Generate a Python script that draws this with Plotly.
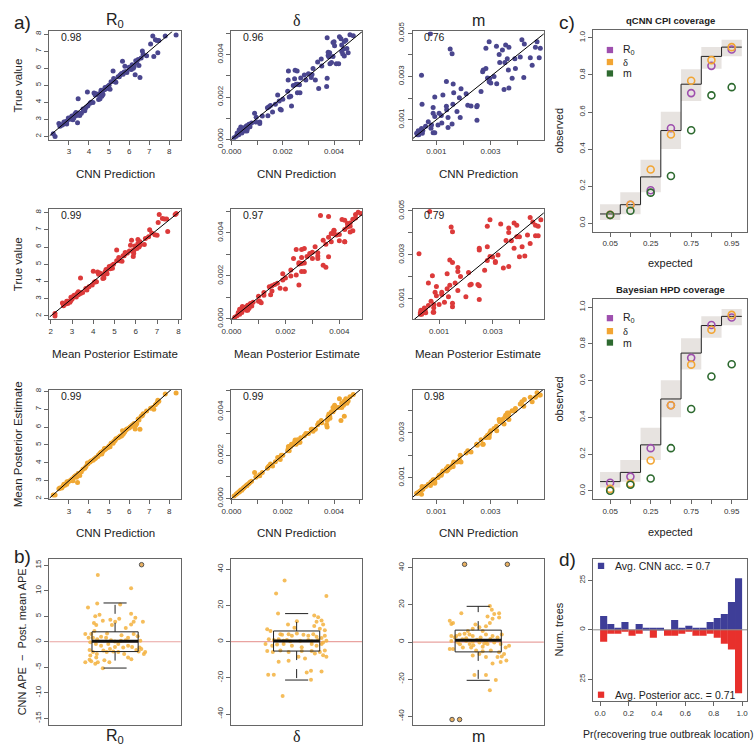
import plotly.graph_objects as go

W, H = 754, 753
FONT = "Liberation Sans, Arial, sans-serif"
SERIF = "Liberation Serif, serif"

# ---------------- data: panel a (true value, CNN prediction, posterior mean) ----------------
r0_cnn = [2.22, 2.31, 2.50, 2.64, 2.80, 2.89, 2.97, 3.13, 3.20, 3.30, 3.38, 3.46, 3.54, 3.43, 3.46,
          3.62, 3.79, 3.95, 3.92, 4.20, 4.25, 4.31, 4.44, 4.48, 4.57, 4.64, 4.69, 4.77, 4.80, 4.93,
          5.05, 5.10, 5.20, 5.23, 5.34, 5.51, 5.62, 5.67, 5.75, 5.79, 5.89, 6.00, 6.11, 6.21, 6.30,
          6.33, 6.38, 6.49, 6.54, 6.66, 6.70, 6.87, 7.07, 7.18, 7.23, 7.31, 7.39, 7.43, 7.48, 7.80,
          8.34, 2.55, 2.70, 2.75, 2.90, 3.05, 3.15, 3.25, 3.35, 3.50, 3.70, 3.85, 4.05, 4.10, 4.35,
          4.55, 4.60, 4.70, 4.85, 5.00, 5.30, 5.45, 5.55, 5.70, 5.85, 6.05, 6.15, 6.25, 6.45, 6.60]
r0_true = [2.15, 2.00, 2.75, 2.66, 2.85, 2.72, 3.08, 3.13, 2.98, 3.32, 3.23, 3.36, 3.23, 2.80, 4.20,
           3.36, 3.50, 3.80, 4.60, 3.98, 4.55, 4.42, 4.45, 4.17, 4.55, 4.36, 4.68, 4.74, 4.87, 4.92,
           4.77, 5.20, 5.83, 5.40, 5.17, 5.49, 5.68, 6.40, 5.77, 6.11, 5.74, 6.06, 5.92, 6.00, 5.62,
           6.43, 6.30, 6.15, 5.45, 7.00, 6.81, 6.72, 7.42, 7.89, 6.68, 7.66, 7.62, 6.90, 7.62, 7.89,
           7.94, 2.60, 2.70, 2.85, 2.90, 3.00, 3.20, 3.10, 3.40, 3.30, 3.60, 3.70, 3.95, 4.00, 4.50,
           4.20, 4.70, 4.45, 4.80, 5.00, 5.20, 5.50, 5.60, 5.65, 5.80, 5.95, 6.20, 6.10, 6.50, 6.60]
r0_post = [2.20, 2.20, 2.55, 2.60, 2.75, 2.80, 2.95, 3.05, 3.00, 3.25, 3.20, 3.35, 3.30, 2.90, 3.40,
           3.50, 3.70, 3.95, 4.00, 4.15, 4.20, 4.25, 4.35, 4.45, 4.55, 4.50, 4.65, 4.80, 4.75, 4.85,
           4.90, 5.10, 5.10, 5.20, 5.35, 5.45, 5.50, 5.80, 5.70, 5.75, 5.90, 5.95, 6.05, 6.15, 5.90,
           6.10, 6.20, 6.40, 5.88, 6.65, 6.75, 6.90, 7.05, 7.10, 7.00, 7.25, 7.35, 7.50, 7.45, 7.85,
           7.90, 2.60, 2.70, 2.80, 2.95, 3.00, 3.10, 3.20, 3.30, 3.40, 3.65, 3.80, 4.05, 4.10, 4.30,
           4.50, 4.60, 4.65, 4.80, 4.95, 5.25, 5.40, 5.50, 5.60, 5.85, 6.00, 6.10, 6.20, 6.45, 6.60]

delta_cnn = [0.00010, 0.00018, 0.00022, 0.00028, 0.00032, 0.00036, 0.00040, 0.00045, 0.00048, 0.00052,
             0.00058, 0.00062, 0.00068, 0.00072, 0.00078, 0.00090, 0.00096, 0.00110, 0.00110, 0.00140,
             0.00142, 0.00146, 0.00152, 0.00171, 0.00180, 0.00186, 0.00190, 0.00194, 0.00219, 0.00221,
             0.00222, 0.00225, 0.00231, 0.00234, 0.00241, 0.00246, 0.00248, 0.00256, 0.00252, 0.00258,
             0.00265, 0.00257, 0.00267, 0.00284, 0.00290, 0.00311, 0.00318, 0.00314, 0.00327, 0.00336,
             0.00340, 0.00352, 0.00371, 0.00373, 0.00373, 0.00377, 0.00377, 0.00380, 0.00383, 0.00384,
             0.00390, 0.00396, 0.00400, 0.00402, 0.00396, 0.00409, 0.00418, 0.00421, 0.00427, 0.00430,
             0.00430, 0.00434, 0.00437, 0.00440, 0.00440, 0.00446, 0.00462, 0.00475, 0.00120, 0.00160,
             0.00200, 0.00270, 0.00300, 0.00350, 0.00450, 0.00455, 0.00060, 0.00030, 0.00095, 0.00059]
delta_true = [0.00008, 0.00015, 0.00030, 0.00022, 0.00035, 0.00058, 0.00030, 0.00048, 0.00055, 0.00040,
              0.00062, 0.00050, 0.00072, 0.00060, 0.00078, 0.00123, 0.00105, 0.00082, 0.00075, 0.00150,
              0.00112, 0.00154, 0.00160, 0.00166, 0.00210, 0.00181, 0.00143, 0.00139, 0.00227, 0.00281,
              0.00323, 0.00200, 0.00204, 0.00158, 0.00255, 0.00286, 0.00327, 0.00323, 0.00261, 0.00260,
              0.00258, 0.00220, 0.00220, 0.00304, 0.00281, 0.00292, 0.00335, 0.00307, 0.00281, 0.00366,
              0.00240, 0.00347, 0.00250, 0.00289, 0.00480, 0.00412, 0.00397, 0.00390, 0.00410, 0.00358,
              0.00363, 0.00458, 0.00462, 0.00443, 0.00392, 0.00358, 0.00358, 0.00485, 0.00476, 0.00446,
              0.00415, 0.00404, 0.00427, 0.00463, 0.00394, 0.00469, 0.00495, 0.00490, 0.00110, 0.00130,
              0.00190, 0.00290, 0.00310, 0.00380, 0.00430, 0.00410, 0.00040, 0.00045, 0.00082, 0.00064]
delta_post = [0.00012, 0.00020, 0.00025, 0.00030, 0.00034, 0.00040, 0.00038, 0.00047, 0.00050, 0.00055,
              0.00060, 0.00065, 0.00070, 0.00075, 0.00080, 0.00120, 0.00100, 0.00105, 0.00110, 0.00140,
              0.00145, 0.00150, 0.00160, 0.00170, 0.00190, 0.00190, 0.00180, 0.00200, 0.00220, 0.00230,
              0.00240, 0.00220, 0.00240, 0.00250, 0.00250, 0.00260, 0.00270, 0.00260, 0.00250, 0.00270,
              0.00260, 0.00270, 0.00260, 0.00290, 0.00300, 0.00320, 0.00310, 0.00320, 0.00320, 0.00340,
              0.00350, 0.00350, 0.00340, 0.00360, 0.00330, 0.00380, 0.00370, 0.00390, 0.00380, 0.00370,
              0.00400, 0.00420, 0.00410, 0.00430, 0.00400, 0.00420, 0.00420, 0.00460, 0.00360, 0.00440,
              0.00420, 0.00440, 0.00430, 0.00450, 0.00380, 0.00460, 0.00470, 0.00480, 0.00120, 0.00150,
              0.00200, 0.00280, 0.00300, 0.00360, 0.00440, 0.00450, 0.00060, 0.00030, 0.00100, 0.00060]

m_cnn = [0.00027, 0.00033, 0.00035, 0.00045, 0.00048, 0.00045, 0.00047, 0.00082, 0.00088, 0.00088,
         0.00094, 0.00088, 0.00094, 0.00094, 0.00106, 0.00118, 0.00124, 0.00137, 0.00138, 0.00137,
         0.00143, 0.00143, 0.00151, 0.00158, 0.00158, 0.00161, 0.00162, 0.00164, 0.00176, 0.00185,
         0.00191, 0.00188, 0.00210, 0.00216, 0.00228, 0.00249, 0.00250, 0.00251, 0.00265, 0.00271,
         0.00273, 0.00283, 0.00283, 0.00295, 0.00289, 0.00295, 0.00297, 0.00301, 0.00313, 0.00322,
         0.00323, 0.00332, 0.00334, 0.00344, 0.00356, 0.00368, 0.00362, 0.00353, 0.00350, 0.00368,
         0.00366, 0.00380, 0.00392, 0.00390, 0.00410, 0.00416, 0.00425, 0.00423, 0.00447, 0.00454,
         0.00466, 0.00472, 0.00484, 0.00480, 0.00030, 0.00040, 0.00050, 0.00060, 0.00070, 0.00110,
         0.00120, 0.00080, 0.00078]
m_true = [0.00037, 0.00049, 0.00031, 0.00059, 0.00037, 0.00305, 0.00172, 0.00075, 0.00157, 0.00130,
          0.00205, 0.00040, 0.00040, 0.00115, 0.00075, 0.00120, 0.00214, 0.00162, 0.00146, 0.00277,
          0.00110, 0.00064, 0.00427, 0.00405, 0.00080, 0.00172, 0.00265, 0.00225, 0.00138, 0.00202,
          0.00243, 0.00110, 0.00220, 0.00167, 0.00163, 0.00160, 0.00098, 0.00166, 0.00230, 0.00322,
          0.00330, 0.00337, 0.00430, 0.00460, 0.00293, 0.00275, 0.00290, 0.00270, 0.00300, 0.00440,
          0.00266, 0.00402, 0.00365, 0.00422, 0.00445, 0.00435, 0.00382, 0.00364, 0.00240, 0.00247,
          0.00330, 0.00292, 0.00337, 0.00382, 0.00390, 0.00470, 0.00450, 0.00295, 0.00387, 0.00352,
          0.00435, 0.00460, 0.00430, 0.00387, 0.00030, 0.00040, 0.00050, 0.00070, 0.00090, 0.00130,
          0.00085, 0.00060, 0.00497]
m_post = [0.00030, 0.00032, 0.00035, 0.00045, 0.00050, 0.00025, 0.00060, 0.00080, 0.00090, 0.00085,
          0.00075, 0.00078, 0.00080, 0.00090, 0.00100, 0.00110, 0.00130, 0.00140, 0.00130, 0.00140,
          0.00135, 0.00150, 0.00145, 0.00150, 0.00150, 0.00160, 0.00150, 0.00170, 0.00170, 0.00180,
          0.00170, 0.00200, 0.00210, 0.00220, 0.00215, 0.00250, 0.00250, 0.00245, 0.00270, 0.00250,
          0.00250, 0.00280, 0.00280, 0.00290, 0.00290, 0.00280, 0.00300, 0.00310, 0.00320, 0.00330,
          0.00310, 0.00360, 0.00350, 0.00360, 0.00380, 0.00390, 0.00390, 0.00370, 0.00340, 0.00360,
          0.00380, 0.00400, 0.00410, 0.00400, 0.00430, 0.00440, 0.00450, 0.00420, 0.00460, 0.00440,
          0.00460, 0.00480, 0.00470, 0.00470, 0.00030, 0.00040, 0.00048, 0.00060, 0.00070, 0.00110,
          0.00120, 0.00080, 0.00065]

r_labels = [["0.98", "0.96", "0.76"], ["0.99", "0.97", "0.79"], ["0.99", "0.99", "0.98"]]
param_titles = ["R<sub>0</sub>", "δ", "m"]

# ---------------- data: panel b (CNN APE - Post. mean APE) ----------------
b_r0_x = [0.858, 0.777, 0.853, 0.837, 0.872, 0.826, 0.845, 0.899, 0.961, 0.974, 1.001, 1.034, 1.042, 1.132,
          1.132, 1.153, 1.132, 1.167, 1.229, 1.088, 1.053, 0.934, 0.830, 0.804, 0.755, 0.782, 0.818, 0.853,
          0.885, 0.926, 0.966, 0.999, 1.048, 1.088, 1.107, 1.153, 1.186, 1.208, 0.796, 0.842, 0.885, 0.944,
          0.958, 0.999, 1.026, 1.067, 1.107, 1.140, 1.175, 1.202, 0.790, 0.818, 0.796, 0.850, 0.904, 0.931,
          0.985, 1.026, 1.075, 1.107, 1.134, 1.194, 1.216, 1.237, 1.248, 0.755, 0.804, 0.845, 0.858, 0.912,
          0.899, 0.953, 0.790, 0.837]
b_r0_y = [13.1, 6.7, 7.5, 5.0, 5.3, 3.7, 3.3, 4.1, 4.3, 3.3, 3.9, 4.5, 7.3, 10.5,
          5.5, 3.9, 3.4, 4.7, 3.9, 2.7, 1.3, 1.6, 2.1, 1.5, 1.5, 0.8, 0.8, 0.5,
          1.0, 0.8, 0.3, 0.06, 0.2, 0.3, 0.8, 1.5, 1.1, 0.2, -0.1, -0.45, -0.8, -0.45,
          -1.4, -1.0, -0.45, -1.1, -0.8, -1.0, -1.6, -1.1, -1.6, -2.0, -2.7, -2.4, -1.7, -2.0,
          -1.9, -2.0, -2.4, -3.1, -3.4, -1.9, -1.4, -2.4, -2.0, -4.0, -3.8, -3.1, -4.0, -3.6,
          -5.2, -4.0, -3.5, -4.3]
b_delta_x = [0.901, 0.831, 1.245, 0.847, 1.002, 1.145, 1.177, 1.164, 1.205, 1.218, 0.929, 0.982, 1.145, 1.191,
             1.232, 0.758, 0.785, 0.866, 0.880, 0.934, 0.961, 1.002, 1.056, 1.096, 1.137, 1.164, 1.205, 1.232,
             0.771, 0.812, 0.852, 0.893, 0.920, 0.947, 1.029, 1.096, 1.124, 1.177, 1.218, 1.245, 0.744, 0.799,
             0.839, 0.893, 0.961, 1.042, 1.124, 1.164, 1.205, 0.758, 0.804, 0.866, 0.934, 1.042, 1.124, 1.191,
             1.232, 1.150, 1.218, 1.245, 0.852, 0.934, 1.069, 1.015, 0.766, 0.812, 1.083, 1.118, 1.205, 1.118,
             0.885]
b_delta_y = [33.8, 26.6, 25.2, 15.5, 11.3, 14.4, 13.5, 11.0, 11.7, 9.5, 9.5, 7.7, 8.6, 7.2,
             6.3, 6.8, 5.9, 4.1, 3.8, 4.1, 3.2, 4.5, 3.8, 3.2, 4.1, 2.7, 2.0, 3.2,
             1.4, 0.9, 1.4, 0.5, 0.9, 0.2, 0.5, 0.9, 0.2, 0.9, -0.4, 0.5, -1.3, -2.2,
             -1.6, -1.3, -2.2, -3.1, -1.3, -2.2, -1.3, -5.2, -5.7, -4.9, -5.7, -5.2, -5.2, -5.7,
             -4.9, -6.6, -7.5, -8.4, -11.1, -10.6, -9.3, -8.4, -18.3, -18.3, -17.1, -16.0, -16.5, -21.0,
             -30.0]
b_m_x = [1.096, 1.112, 1.132, 1.172, 1.077, 1.118, 1.096, 1.172, 0.766, 0.779, 0.793, 0.861, 0.977, 1.010,
         1.064, 1.037, 0.955, 0.915, 0.928, 0.888, 0.847, 0.820, 0.779, 0.807, 0.901, 0.955, 1.064, 1.118,
         1.159, 1.194, 0.779, 0.834, 0.901, 0.955, 1.010, 1.064, 1.077, 1.037, 1.132, 1.185, 1.226, 1.254,
         0.766, 0.793, 0.874, 0.942, 0.983, 1.037, 1.104, 1.172, 1.213, 1.010, 0.955, 1.064, 1.159, 1.194,
         1.185, 1.118, 1.232, 0.969, 1.064, 1.145, 1.096, 0.870, 0.930, 0.990, 1.050, 1.020, 0.960, 1.100,
         0.850]
b_m_y = [19.4, 17.3, 15.1, 15.5, 13.7, 12.5, 10.2, 13.2, 11.5, 9.7, 10.2, 15.5, 9.4, 8.0,
         8.5, 5.9, 7.1, 5.9, 4.1, 4.5, 4.1, 3.2, 3.2, 2.4, 2.0, 3.2, 4.1, 3.2,
         2.4, 4.1, 0.6, -0.3, 0.6, 0.3, -0.3, 0.3, -1.1, -2.5, -0.3, -1.1, -2.9, -2.0,
         -3.8, -3.8, -2.9, -2.9, -4.6, -5.0, -4.6, -5.5, -6.4, -6.4, -7.3, -8.1, -8.1, -7.8,
         -10.8, -11.6, -9.9, -17.8, -17.8, -20.4, -26.0, 1.5, -1.0, 1.2, -0.8, 2.5, -1.8, 1.6,
         -1.2]
# values beyond the plotted limits, drawn at the limit
b_r0_cap_x, b_r0_cap_y = [1.218], [15.1]
b_delta_cap_x, b_delta_cap_y = [], []
b_m_cap_x, b_m_cap_y = [0.888, 1.240, 0.785, 0.847], [41.8, 41.8, -41.7, -41.7]
# box statistics: lower whisker, q1, median, q3, upper whisker
b_stats = [[-5.15, -1.92, 0.1, 1.95, 7.6],
           [-21.2, -5.2, 0.4, 5.9, 15.5],
           [-20.6, -5.3, 1.0, 6.4, 19.2]]
b_labels = ["R<sub>0</sub>", "δ", "m"]

# ---------------- data: panel c (coverage) ----------------
cov_levels = [0.05, 0.1, 0.25, 0.5, 0.75, 0.9, 0.95]
cov_ci_lo = [0.018, 0.049, 0.167, 0.401, 0.660, 0.833, 0.901]
cov_ci_hi = [0.102, 0.167, 0.343, 0.602, 0.831, 0.951, 0.990]
qcnn_r0 = [0.045, 0.100, 0.178, 0.512, 0.702, 0.849, 0.937]
qcnn_delta = [0.045, 0.100, 0.290, 0.479, 0.769, 0.880, 0.950]
qcnn_m = [0.044, 0.067, 0.165, 0.255, 0.502, 0.690, 0.734]
hpd_r0 = [0.044, 0.077, 0.232, 0.466, 0.724, 0.903, 0.944]
hpd_delta = [0.010, 0.039, 0.165, 0.466, 0.687, 0.877, 0.958]
hpd_m = [0.000, 0.033, 0.067, 0.232, 0.445, 0.622, 0.689]
cov_ticktext = ["0.05", "", "0.25", "", "0.75", "", "0.95"]

# ---------------- data: panel d (histogram of accuracy) ----------------
acc_bin_width = 0.05
cnn_counts = [7, 3, 1, 4, 0, 3, 1, 1, 1, 0, 5, 1, 2, 1, 1, 4, 6, 8, 14, 26]
post_counts = [6, 2, 2, 1, 3, 2, 0, 4, 0, 3, 3, 2, 1, 3, 3, 2, 4, 7, 10, 32]

# ---------------- colours ----------------
C_BLUE, C_RED, C_ORANGE = "#4A468E", "#DC3A3A", "#F0A834"
C_PURPLE, C_CORANGE, C_GREEN = "#9E4FAE", "#F2A533", "#2E6A30"
C_HBLUE, C_HRED = "#3E3E98", "#E8302C"
C_JIT = "#F3B13E"

# ---------------- layout helpers ----------------
def fx(px):
    return px / W


def fy(py):
    return 1 - py / H


def names(i):
    s = "" if i == 1 else str(i)
    return "xaxis" + s, "yaxis" + s, "x" + s, "y" + s


layout_axes = {}
annotations = []
shapes = []


def axis_common():
    return dict(showline=True, mirror=True, linecolor="#666", linewidth=1, ticks="outside",
                ticklen=4, tickwidth=1, tickcolor="#666", showgrid=False, zeroline=False,
                tickfont=dict(family=FONT, size=8, color="#333"), fixedrange=True)


def make_axes(i, box, xrange, yrange, xtv, xtt, ytv, ytt):
    xa, ya, xr, yr = names(i)
    (px0, px1), (py0, py1) = box
    xd = axis_common()
    xd.update(domain=[fx(px0), fx(px1)], anchor=yr, range=xrange, tickvals=xtv, ticktext=xtt)
    yd = axis_common()
    yd.update(domain=[fy(py1), fy(py0)], anchor=xr, range=yrange, tickvals=ytv, ticktext=ytt,
              tickangle=-90)
    layout_axes[xa] = xd
    layout_axes[ya] = yd
    return xr, yr


def text(px, py, s, size=11, xanchor="center", yanchor="middle", angle=0, bold=False,
         family=FONT, color="#222"):
    if bold:
        s = "<b>" + s + "</b>"
    annotations.append(dict(x=fx(px), y=fy(py), xref="paper", yref="paper", text=s,
                            showarrow=False, xanchor=xanchor, yanchor=yanchor, textangle=angle,
                            font=dict(family=family, size=size, color=color)))


def square(px, py, color, half=3.2):
    shapes.append(dict(type="rect", xref="paper", yref="paper", x0=fx(px - half), x1=fx(px + half),
                       y0=fy(py + half), y1=fy(py - half), fillcolor=color, line=dict(width=0)))


fig = go.Figure()

# ---------------- panel a ----------------
cols = [(41, 174), (225, 358), (409, 542)]
rows = [(22, 133), (204, 317), (389, 501)]
params = [(r0_cnn, r0_true, r0_post), (delta_cnn, delta_true, delta_post), (m_cnn, m_true, m_post)]
row_colors = [C_BLUE, C_RED, C_ORANGE]
x_ranges = [[[2.03, 8.57], [-0.00002, 0.0051], [0.00012, 0.00497]],
            [[1.94, 8.11], [-0.00002, 0.00485], [0.00001, 0.00491]],
            [[2.03, 8.57], [-0.00002, 0.0051], [0.00012, 0.00497]]]
y_ranges = [[[1.8, 8.15], [-0.00002, 0.0051], [0.00007, 0.00508]],
            [[1.8, 8.2], [-0.00002, 0.0051], [0.00007, 0.00508]],
            [[1.98, 8.09], [-0.00002, 0.00502], [0.00004, 0.00494]]]
tick_sets = [([2, 3, 4, 5, 6, 7, 8], ["2", "3", "4", "5", "6", "7", "8"]),
             ([0, 0.001, 0.002, 0.003, 0.004, 0.005], ["0.000", "", "0.002", "", "0.004", ""]),
             ([0.001, 0.002, 0.003, 0.004, 0.005], ["0.001", "", "0.003", "", "0.005"])]
x_titles = ["CNN Prediction", "Mean Posterior Estimate", "CNN Prediction"]
x_title_y = [168, 352, 536]
y_titles = ["True value", "True value", "Mean Posterior Estimate"]

for r in range(3):
    for c in range(3):
        idx = r * 3 + c + 1
        cnn, true, post = params[c]
        if r == 0:
            xs, ys = cnn, true
        elif r == 1:
            xs, ys = post, true
        else:
            xs, ys = cnn, post
        tv, tt = tick_sets[c]
        xr, yr = make_axes(idx, (cols[c], rows[r]), x_ranges[r][c], y_ranges[r][c], tv, tt, tv, tt)
        fig.add_trace(go.Scatter(x=xs, y=ys, xaxis=xr, yaxis=yr, mode="markers",
                                 marker=dict(color=row_colors[r], size=5, line=dict(width=0)),
                                 showlegend=False, hoverinfo="skip"))
        lo = max(x_ranges[r][c][0], y_ranges[r][c][0])
        hi = min(x_ranges[r][c][1], y_ranges[r][c][1])
        fig.add_trace(go.Scatter(x=[lo, hi], y=[lo, hi], xaxis=xr, yaxis=yr, mode="lines",
                                 line=dict(color="black", width=1), showlegend=False,
                                 hoverinfo="skip"))
        text(cols[c][0] + 10, rows[r][0] + 6, r_labels[r][c], size=10.5, xanchor="left",
             yanchor="middle")
        text((cols[c][0] + cols[c][1]) / 2, x_title_y[r], x_titles[r], size=11.5)
    text(9, (rows[r][0] + rows[r][1]) / 2, y_titles[r], size=11.5, angle=-90)

for c in range(3):
    fam = SERIF if c == 1 else FONT
    text((cols[c][0] + cols[c][1]) / 2, 11, param_titles[c], size=16, family=fam)

text(14, 13, "a)", size=19)

# ---------------- panel b ----------------
b_box_y = (562, 733)
b_yranges = [[-16.4, 16.3], [-46.3, 45.9], [-44.9, 44.9]]
b_ticks = [([-15, -10, -5, 0, 5, 10, 15], ["-15", "-10", "-5", "0", "5", "10", "15"]),
           ([-40, -20, 0, 20, 40], ["-40", "-20", "0", "20", "40"]),
           ([-40, -20, 0, 20, 40], ["-40", "-20", "0", "20", "40"])]
b_points = [(b_r0_x, b_r0_y, b_r0_cap_x, b_r0_cap_y),
            (b_delta_x, b_delta_y, b_delta_cap_x, b_delta_cap_y),
            (b_m_x, b_m_y, b_m_cap_x, b_m_cap_y)]
BOX_HALF, CAP_HALF = 0.19, 0.095
for c in range(3):
    idx = 10 + c
    xr, yr = make_axes(idx, (cols[c], b_box_y), [0.46, 1.54], b_yranges[c], [], [],
                       b_ticks[c][0], b_ticks[c][1])
    layout_axes[names(idx)[0]]["ticks"] = ""
    shapes.append(dict(type="line", xref=xr + " domain", yref=yr, x0=0, x1=1, y0=0, y1=0,
                       line=dict(color="#E9A3A0", width=1.2), layer="below"))
    jx, jy, cx, cy = b_points[c]
    fig.add_trace(go.Scatter(x=jx, y=jy, xaxis=xr, yaxis=yr, mode="markers",
                             marker=dict(color=C_JIT, size=4, opacity=0.85, line=dict(width=0)),
                             showlegend=False, hoverinfo="skip"))
    if cx:
        fig.add_trace(go.Scatter(x=cx, y=cy, xaxis=xr, yaxis=yr, mode="markers", cliponaxis=False,
                                 marker=dict(color="#E8B060", size=4.5,
                                             line=dict(color="#555", width=1)),
                                 showlegend=False, hoverinfo="skip"))
    lw, q1, med, q3, uw = b_stats[c]
    shapes.append(dict(type="rect", xref=xr, yref=yr, x0=1 - BOX_HALF, x1=1 + BOX_HALF, y0=q1, y1=q3,
                       line=dict(color="#222", width=1)))
    shapes.append(dict(type="line", xref=xr, yref=yr, x0=1 - BOX_HALF, x1=1 + BOX_HALF, y0=med,
                       y1=med, line=dict(color="#111", width=3)))
    for a, b in ((q3, uw), (q1, lw)):
        shapes.append(dict(type="line", xref=xr, yref=yr, x0=1, x1=1, y0=a, y1=b,
                           line=dict(color="#222", width=1, dash="dash")))
        shapes.append(dict(type="line", xref=xr, yref=yr, x0=1 - CAP_HALF, x1=1 + CAP_HALF, y0=b,
                           y1=b, line=dict(color="#222", width=1)))
    fam = SERIF if c == 1 else FONT
    text((cols[c][0] + cols[c][1]) / 2, 744, b_labels[c], size=16, family=fam)

text(13, 647, "CNN APE  \u2212  Post. mean APE", size=11, angle=-90)
text(14, 560, "b)", size=19)

# ---------------- panel c ----------------
c_box_x = (592, 748)
c_boxes_y = [(20, 227), (296, 501)]
c_titles = ["qCNN CPI coverage", "Bayesian HPD coverage"]
c_series = [(qcnn_r0, qcnn_delta, qcnn_m), (hpd_r0, hpd_delta, hpd_m)]
c_legend_y = [(41, 53.3, 65), (315.7, 329, 340.7)]
positions = list(range(1, len(cov_levels) + 1))
for k in range(2):
    idx = 13 + k
    xr, yr = make_axes(idx, (c_box_x, c_boxes_y[k]), [0.16, 7.76], [-0.045, 1.045],
                       positions, cov_ticktext, [0, 0.2, 0.4, 0.6, 0.8, 1.0],
                       ["0.0", "0.2", "0.4", "0.6", "0.8", "1.0"])
    fig.add_trace(go.Bar(x=positions, y=[h - l for h, l in zip(cov_ci_hi, cov_ci_lo)],
                         base=cov_ci_lo, width=1, xaxis=xr, yaxis=yr,
                         marker=dict(color="#E7E3E0", line=dict(width=0)), showlegend=False,
                         hoverinfo="skip"))
    step_x = [positions[0] - 0.5] + positions + [positions[-1] + 0.5]
    step_y = [cov_levels[0]] + cov_levels + [cov_levels[-1]]
    fig.add_trace(go.Scatter(x=step_x, y=step_y, xaxis=xr, yaxis=yr, mode="lines",
                             line=dict(color="#222", width=1, shape="hvh"), showlegend=False,
                             hoverinfo="skip"))
    for ser, col in zip(c_series[k], (C_PURPLE, C_CORANGE, C_GREEN)):
        fig.add_trace(go.Scatter(x=positions, y=ser, xaxis=xr, yaxis=yr, mode="markers",
                                 marker=dict(symbol="circle-open", color=col, size=7,
                                             line=dict(width=1.6)),
                                 showlegend=False, hoverinfo="skip"))
    for ly, col, lab, fam in zip(c_legend_y[k], (C_PURPLE, C_CORANGE, C_GREEN),
                                 ("R<sub>0</sub>", "δ", "m"), (FONT, SERIF, FONT)):
        square(609, ly, col)
        text(620, ly, lab, size=10.5, xanchor="left", family=fam)
    text((c_box_x[0] + c_box_x[1]) / 2, c_boxes_y[k][0] - 9 if k == 0 else 286, c_titles[k],
         size=9.5, bold=True)
    text((c_box_x[0] + c_box_x[1]) / 2, 259 if k == 0 else 535, "expected", size=11)
    text(557, (c_boxes_y[k][0] + c_boxes_y[k][1]) / 2, "observed", size=11, angle=-90)

text(565, 13, "c)", size=19)

# ---------------- panel d ----------------
idx = 15
xr, yr = make_axes(idx, (c_box_x, (562, 708)), [-0.049, 1.035], [-36, 36],
                   [0, 0.2, 0.4, 0.6, 0.8, 1.0], ["0.0", "0.2", "0.4", "0.6", "0.8", "1.0"],
                   [-25, 0, 25], ["25", "0", "25"])
bin_centers = [acc_bin_width * (i + 0.5) for i in range(len(cnn_counts))]
fig.add_trace(go.Bar(x=bin_centers, y=cnn_counts, width=acc_bin_width, xaxis=xr, yaxis=yr,
                     marker=dict(color=C_HBLUE, line=dict(width=0)), showlegend=False,
                     hoverinfo="skip"))
fig.add_trace(go.Bar(x=bin_centers, y=[-v for v in post_counts], width=acc_bin_width, xaxis=xr,
                     yaxis=yr, marker=dict(color=C_HRED, line=dict(width=0)), showlegend=False,
                     hoverinfo="skip"))
shapes.append(dict(type="line", xref=xr + " domain", yref=yr, x0=0, x1=1, y0=0, y1=0,
                   line=dict(color="#888", width=1)))
square(600, 569.5, C_HBLUE)
text(612, 569.5, "Avg. CNN acc. = 0.7", size=10.5, xanchor="left")
square(600, 701.5, C_HRED)
text(612, 701.5, "Avg. Posterior acc. = 0.71", size=10.5, xanchor="left")
text(668, 742, "Pr(recovering true outbreak location)", size=10.5)
text(557, 635, "Num. trees", size=11, angle=-90)
text(566, 563, "d)", size=19)

fig.update_layout(width=W, height=H, autosize=False, margin=dict(l=0, r=0, t=0, b=0),
                  paper_bgcolor="white", plot_bgcolor="white", barmode="overlay",
                  font=dict(family=FONT, color="#222"), annotations=annotations, shapes=shapes,
                  showlegend=False, **layout_axes)

fig.write_html("out.html", config={"displayModeBar": False},
               post_script="document.body.style.margin='0';document.body.style.overflow='hidden';")
